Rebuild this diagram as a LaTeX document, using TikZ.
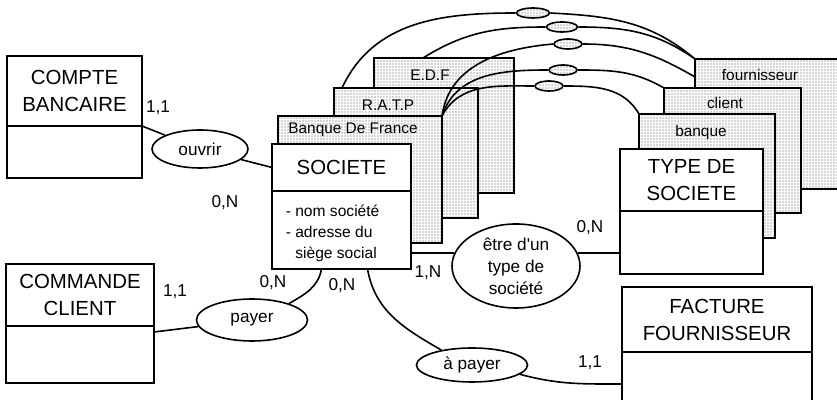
\documentclass[tikz,border=0pt]{standalone}
\usepackage{fontspec}
\setmainfont{Liberation Sans}
\usetikzlibrary{shapes.geometric,positioning,patterns.meta}

\begin{document}
\begin{tikzpicture}[
  x=0.5pt, y=0.5pt,
  line width=0.8pt,
  entity/.style={
    draw,
    fill=white,
    inner sep=0pt,
    outer sep=0pt,
    align=center,
    font=\fontsize{10.2}{13.5}\selectfont
  },
  stackbox/.style={
    draw,
    preaction={fill=white},
    pattern={Dots[distance=1.5pt,radius=0.28pt]},
    pattern color=black!70,
    inner sep=0pt,
    outer sep=0pt,
    anchor=north west
  },
  stacklabel/.style={
    font=\fontsize{7.7}{9}\selectfont,
    inner sep=0pt
  },
  assoc/.style={
    ellipse,
    draw,
    fill=white,
    inner sep=0pt,
    align=center,
    font=\fontsize{8.6}{11}\selectfont
  },
  link/.style={
    ellipse,
    draw,
    preaction={fill=white},
    pattern={Dots[distance=1.5pt,radius=0.28pt]},
    pattern color=black!70,
    inner sep=0pt,
    minimum width=14pt,
    minimum height=5pt
  },
  attr/.style={
    font=\fontsize{7.8}{10.5}\selectfont,
    align=left,
    inner sep=0pt
  },
  card/.style={
    font=\fontsize{8.6}{10}\selectfont,
    inner sep=0pt
  }
]

\useasboundingbox (0,0) rectangle (837,-400);

\node[stackbox, minimum width=70pt, minimum height=67.5pt] (edfBox) at (374,-58) {};
\node[stackbox, minimum width=72pt, minimum height=65pt] (ratpBox) at (334,-88) {};
\node[stackbox, minimum width=82pt, minimum height=63.5pt] (bdfBox) at (278,-116) {};
\node[stacklabel] at ([xshift=28pt,yshift=-8.5pt]edfBox.north west) {E.D.F};
\node[stacklabel] at ([xshift=27pt,yshift=-8.5pt]ratpBox.north west) {R.A.T.P};
\node[stacklabel] at ([xshift=37.5pt,yshift=-7pt]bdfBox.north west) {Banque De France};

\node[stackbox, minimum width=75pt, minimum height=65pt] (fourBox) at (695,-59) {};
\node[stackbox, minimum width=68.5pt, minimum height=62.5pt] (clientBox) at (664,-88) {};
\node[stackbox, minimum width=68pt, minimum height=62pt] (banqueBox) at (639,-114) {};
\node[stacklabel] at ([xshift=32.5pt,yshift=-8pt]fourBox.north west) {fournisseur};
\node[stacklabel] at ([xshift=30.5pt,yshift=-7.5pt]clientBox.north west) {client};
\node[stacklabel] at ([xshift=31pt,yshift=-9.5pt]banqueBox.north west) {banque};

\node[entity, minimum width=67.5pt, minimum height=35pt, anchor=north west] (compteHead)
  at (7,-56) {COMPTE\\BANCAIRE};
\node[entity, minimum width=67.5pt, minimum height=26pt, below=0pt of compteHead] (compteBody) {};

\node[entity, minimum width=69.5pt, minimum height=23.5pt, anchor=north west] (societeHead)
  at (272,-144) {SOCIETE};
\node[entity, minimum width=69.5pt, minimum height=39pt, below=0pt of societeHead] (societeBody) {};
\node[attr, anchor=west] (societeAttr) at (285,-233)
  {- nom société\\- adresse du\\\hphantom{- }siège social};

\node[entity, minimum width=71.5pt, minimum height=31pt, anchor=north west] (typeHead)
  at (620,-149) {TYPE DE\\SOCIETE};
\node[entity, minimum width=71.5pt, minimum height=31.5pt, below=0pt of typeHead] (typeBody) {};

\node[entity, minimum width=74pt, minimum height=31pt, anchor=north west] (commandeHead)
  at (6,-264) {COMMANDE\\CLIENT};
\node[entity, minimum width=74pt, minimum height=28.5pt, below=0pt of commandeHead] (commandeBody) {};

\node[entity, minimum width=95pt, minimum height=32.5pt, anchor=north west] (factureHead)
  at (622,-287) {FACTURE\\FOURNISSEUR};
\node[entity, minimum width=95pt, minimum height=27pt, below=0pt of factureHead] (factureBody) {};

\node[assoc, minimum width=48pt, minimum height=19pt] (ouvrir) at (200,-149) {ouvrir};
\node[assoc, minimum width=64pt, minimum height=42pt] (etreType) at (516,-266)
  {être d\textquotesingle un\\type de\\société};
\node[assoc, minimum width=55.5pt, minimum height=21pt] (payer) at (252,-320) {payer};
\node[assoc, minimum width=55.5pt, minimum height=17pt] (aPayer) at (472,-365) {à payer};

\node[link, minimum width=16.5pt] (ratpFour) at (533,-13) {};
\node[link, minimum width=15.5pt] (edfFour) at (562,-27) {};
\node[link] (bdfFour) at (568,-44) {};
\node[link] (bdfClient) at (563,-70) {};
\node[link] (bdfBanque) at (549,-86) {};

\draw ([xshift=4pt]ratpBox.north west) to[out=65,in=180] (ratpFour.west);
\draw (ratpFour.east) to[out=-3,in=140] (fourBox.north west);
\draw ([xshift=24.5pt]edfBox.north west) to[out=32,in=180] (edfFour.west);
\draw (edfFour.east) to[out=0,in=145] (fourBox.north west);
\draw (bdfBox.north east) to[out=82,in=185] (bdfFour.west);
\draw (bdfFour.east) to[out=0,in=150] ([yshift=-9pt]fourBox.north west);
\draw (bdfBox.north east) to[out=72,in=180] (bdfClient.west);
\draw (bdfClient.east) to[out=0,in=150] (clientBox.north west);
\draw (bdfBox.north east) to[out=62,in=180] (bdfBanque.west);
\draw (bdfBanque.east) to[out=0,in=120] (banqueBox.north west);

\draw (compteHead.south east) -- (ouvrir);
\draw (ouvrir) -- (societeHead.west);
\draw (etreType.168 -| societeBody.east) -- (etreType.168);
\draw (etreType.12) -- (etreType.12 -| typeBody.west);
\draw ([yshift=-3pt]commandeBody.north east) -- (payer);
\draw (payer.24) to[out=30,in=-100] ([xshift=-10pt]societeBody.south);
\draw ([xshift=13pt]societeBody.south) to[out=-80,in=150] (aPayer.154);
\draw (aPayer.-11) to[out=-15,in=180] ([yshift=-16pt]factureBody.north west);

\node[card] (cardCompte) at (158,-108) {1,1};
\node[card] (cardSocOuvrir) at (225,-203) {0,N};
\node[card] (cardSocEtre) at (428,-273) {1,N};
\node[card] (cardTypeEtre) at (590,-228) {0,N};
\node[card] (cardCommande) at (175,-292) {1,1};
\node[card] (cardSocPayer) at (273,-283) {0,N};
\node[card] (cardSocAPayer) at (342,-286) {0,N};
\node[card] (cardFacture) at (590,-363) {1,1};

\end{tikzpicture}
\end{document}
